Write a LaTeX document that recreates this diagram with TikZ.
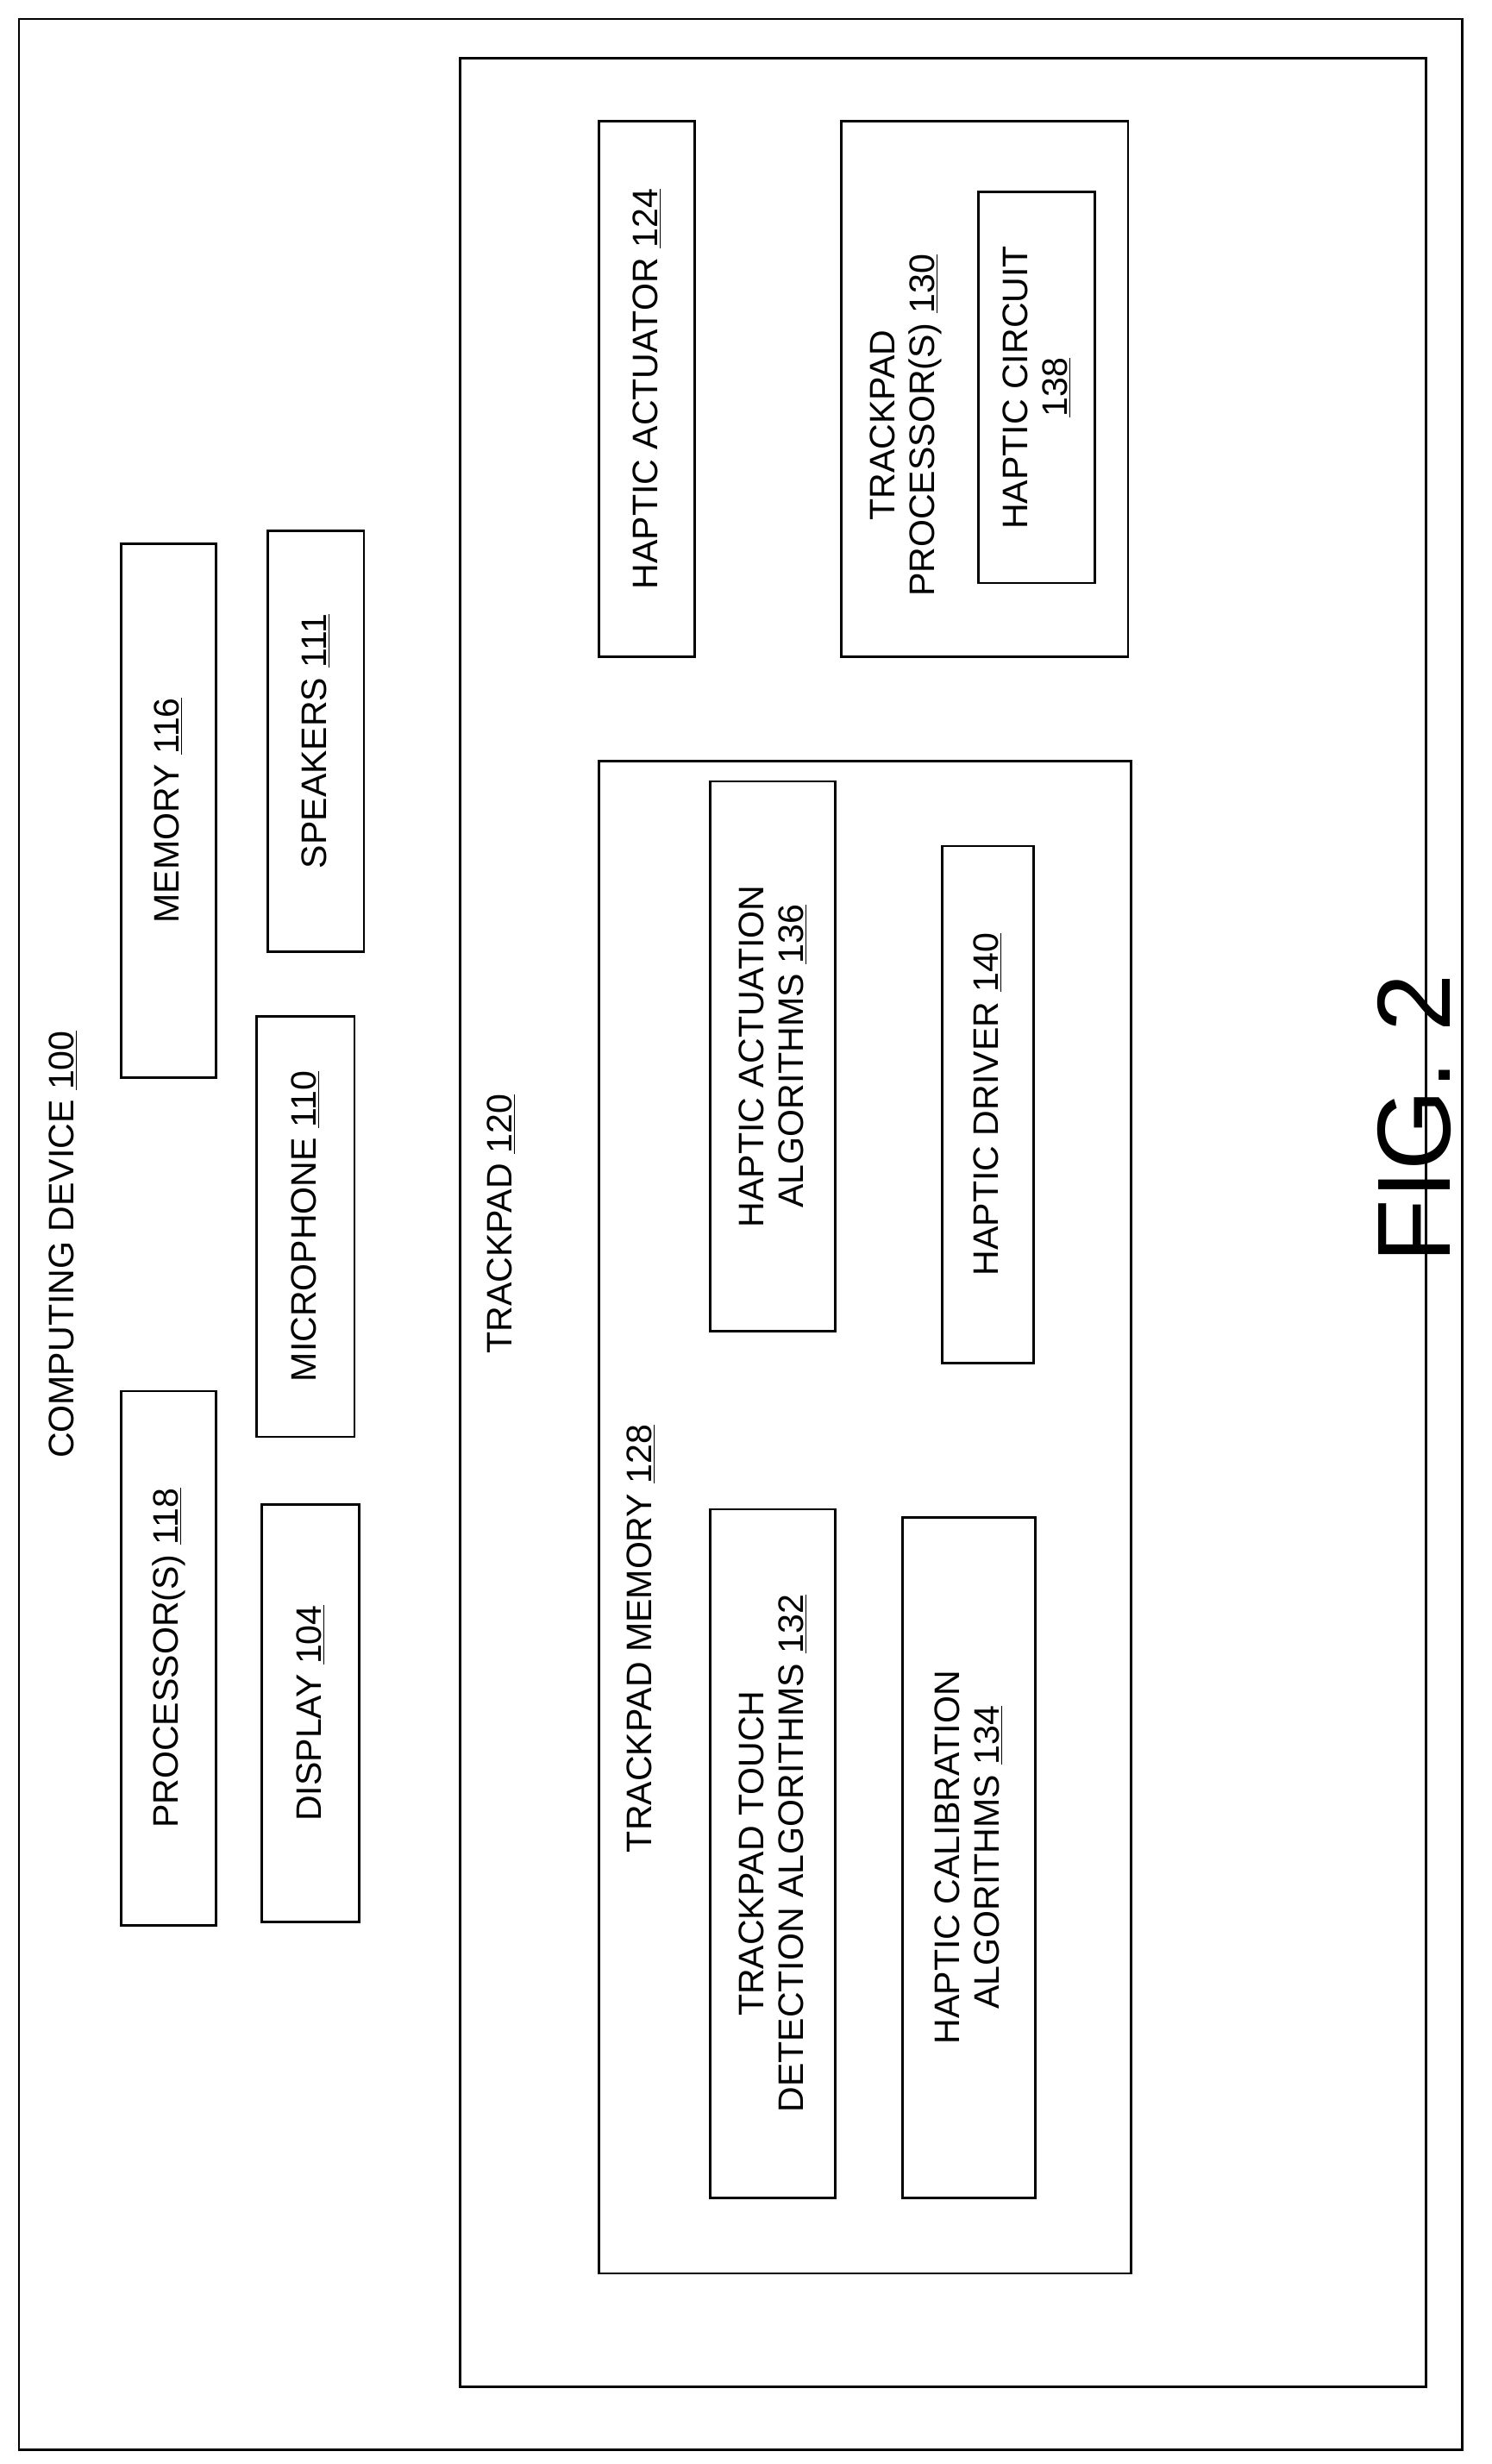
\documentclass[tikz,border=0pt]{standalone}
\usepackage{fontspec}
\setmainfont{Liberation Sans}
\begin{document}
\begin{tikzpicture}
  [x=1pt,y=-1pt,
   box/.style={draw,line width=1.5pt,rotate=90,align=center,inner sep=0pt,
     font=\fontsize{22.5}{25}\selectfont},
   lbl/.style={rotate=90,align=center,font=\fontsize{22.5}{25}\selectfont}]

  \useasboundingbox (0,0) rectangle (947,1564);

  % outer boxes
  \node[box] (dev) at (470,783.5) [minimum width=1543pt,minimum height=916pt] {};
  \node[lbl] (devl) at (40,790) {COMPUTING DEVICE \underline{100}};

  \node[box] (pad) at (598.5,776) [minimum width=1478pt,minimum height=613pt] {};
  \node[lbl] (padl) at (318,777) {TRACKPAD \underline{120}};

  % host parts
  \node[box] (proc) at (107,1052.5) [minimum width=339pt,minimum height=60pt] {PROCESSOR(S) \underline{118}};
  \node[box] (mem) at (107,514.5) [minimum width=339pt,minimum height=60pt] {MEMORY \underline{116}};
  \node[box] (disp) at (197,1087.5) [minimum width=265pt,minimum height=62pt] {DISPLAY \underline{104}};
  \node[box] (mic) at (194,778.5) [minimum width=267pt,minimum height=62pt] {MICROPHONE \underline{110}};
  \node[box] (spk) at (200.5,470.5) [minimum width=267pt,minimum height=61pt] {SPEAKERS \underline{111}};

  % trackpad memory
  \node[box] (tmem) at (549,963) [minimum width=960pt,minimum height=338pt] {};
  \node[lbl] (tmeml) at (407,1040) {TRACKPAD MEMORY \underline{128}};
  \node[box] (touch) at (490.5,1176.5) [minimum width=437pt,minimum height=79pt]
    {TRACKPAD TOUCH\\DETECTION ALGORITHMS \underline{132}};
  \node[box] (calib) at (615,1179) [minimum width=432pt,minimum height=84pt]
    {HAPTIC CALIBRATION\\ALGORITHMS \underline{134}};
  \node[box] (act) at (490.5,670.5) [minimum width=349pt,minimum height=79pt]
    {HAPTIC ACTUATION\\ALGORITHMS \underline{136}};
  \node[box] (drv) at (627,701) [minimum width=328pt,minimum height=58pt] {HAPTIC DRIVER \underline{140}};

  % actuator and processor
  \node[box] (hact) at (410.5,247) [minimum width=340pt,minimum height=61pt] {HAPTIC ACTUATOR \underline{124}};
  \node[box] (tproc) at (625,247) [minimum width=340pt,minimum height=182pt] {};
  \node[lbl] (tprocl) at (575,270) {TRACKPAD\\PROCESSOR(S) \underline{130}};
  \node[box] (circ) at (658,246) [minimum width=248pt,minimum height=74pt]
    {HAPTIC CIRCUIT\\\underline{138}};

  \node[lbl,font=\fontsize{66}{70}\selectfont] (fig) at (898,710) {FIG. 2};
\end{tikzpicture}
\end{document}
